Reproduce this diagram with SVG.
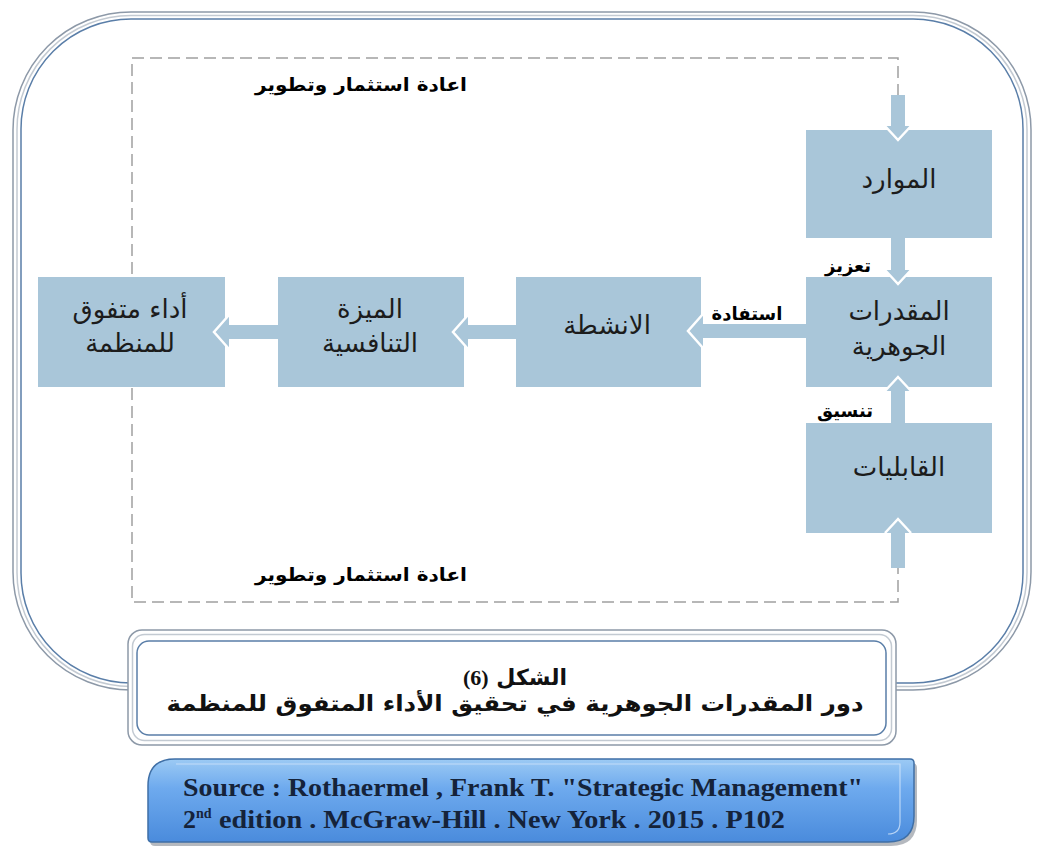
<svg xmlns="http://www.w3.org/2000/svg" width="1038" height="848" viewBox="0 0 1038 848">
  <defs>
    <linearGradient id="srcFill" x1="0" y1="0" x2="0" y2="1">
      <stop offset="0" stop-color="#9ccaf4"/>
      <stop offset="0.35" stop-color="#6eaaee"/>
      <stop offset="1" stop-color="#4a8bdc"/>
    </linearGradient>
    <style>
      .box { fill: #a9c6d9; }
      .ar { font-family: "DejaVu Sans", sans-serif; direction: rtl; fill: #1c1c1c; }
      .node { font-size: 26px; }
      .lbl { font-size: 18px; font-weight: bold; fill: #000; }
      .cap { font-size: 22px; font-weight: bold; fill: #111; }
      .num { font-family: "Liberation Serif", serif; font-weight: bold; font-size: 22px; }
      .arrow { fill: #a9c6d9; }
      .chev { fill: none; stroke: #ffffff; stroke-width: 2.5; stroke-linejoin: miter; }
      .dash { fill: none; stroke: #a0a0a0; stroke-width: 1.5; stroke-dasharray: 12 6; }
      .src { font-family: "Liberation Serif", serif; font-weight: bold; font-size: 26px; fill: #15233a; }
    </style>
  </defs>

  <rect width="1038" height="848" fill="#ffffff"/>

  <!-- outer triple-line frame -->
  <g id="frame" fill="none">
    <rect x="13" y="12" width="1018" height="678" rx="118" stroke="#8d99a8" stroke-width="1.5"/>
    <rect x="17" y="15.5" width="1010" height="671" rx="114" stroke="#c3cad2" stroke-width="1.5"/>
    <rect x="21" y="19" width="1002" height="664" rx="110" stroke="#5a7ea8" stroke-width="1.5"/>
  </g>

  <!-- connectors -->
  <g id="connectors">
    <path class="dash" d="M898,96 L898,58 L132,58 L132,602 L898,602 L898,567"/>
    <!-- reinvestment into resources -->
    <polygon class="arrow" points="891,95 905,95 905,126 911,126 898,140 885,126 891,126"/>
    <!-- resources to core competencies -->
    <polygon class="arrow" points="891,238 905,238 905,270 911,270 898,284 885,270 891,270"/>
    <!-- capabilities to core competencies -->
    <polygon class="arrow" points="891,423 905,423 905,391 911,391 898,377 885,391 891,391"/>
    <!-- reinvestment into capabilities -->
    <polygon class="arrow" points="891,568 905,568 905,533 911,533 898,519 885,533 891,533"/>
    <!-- core competencies to activities -->
    <polygon class="arrow" points="806,324 806,338 703,338 703,348 688,331 703,314 703,324"/>
    <!-- activities to competitive advantage -->
    <polygon class="arrow" points="516,325 516,339 468,339 468,349 453,332 468,315 468,325"/>
    <!-- competitive advantage to performance -->
    <polygon class="arrow" points="278,325 278,339 229,339 229,349 214,332 229,315 229,325"/>
  </g>

  <!-- nodes -->
  <g id="node-resources">
    <rect class="box" x="806" y="130" width="186" height="108"/>
    <text class="ar node" x="899" y="188" text-anchor="middle">الموارد</text>
  </g>
  <g id="node-core">
    <rect class="box" x="806" y="277" width="186" height="110"/>
    <text class="ar node" x="899" y="320" text-anchor="middle">المقدرات</text>
    <text class="ar node" x="899" y="355" text-anchor="middle">الجوهرية</text>
  </g>
  <g id="node-capabilities">
    <rect class="box" x="806" y="423" width="186" height="110"/>
    <text class="ar node" x="899" y="476" text-anchor="middle">القابليات</text>
  </g>
  <g id="node-activities">
    <rect class="box" x="516" y="277" width="185" height="110"/>
    <text class="ar node" x="607" y="334" text-anchor="middle">الانشطة</text>
  </g>
  <g id="node-advantage">
    <rect class="box" x="278" y="277" width="186" height="110"/>
    <text class="ar node" x="370" y="318" text-anchor="middle">الميزة</text>
    <text class="ar node" x="370" y="352" text-anchor="middle">التنافسية</text>
  </g>
  <g id="node-performance">
    <rect class="box" x="38" y="277" width="187" height="110"/>
    <text class="ar node" x="130" y="318" text-anchor="middle">أداء متفوق</text>
    <text class="ar node" x="130" y="352" text-anchor="middle">للمنظمة</text>
  </g>

  <!-- arrowhead outlines over the target boxes -->
  <g id="arrowheads">
    <polyline class="chev" points="885,126 898,140 911,126"/>
    <polyline class="chev" points="885,270 898,284 911,270"/>
    <polyline class="chev" points="885,391 898,377 911,391"/>
    <polyline class="chev" points="885,533 898,519 911,533"/>
    <polyline class="chev" points="703,314 688,331 703,348"/>
    <polyline class="chev" points="468,315 453,332 468,349"/>
    <polyline class="chev" points="229,315 214,332 229,349"/>
  </g>

  <!-- connector labels -->
  <g id="labels">
    <text class="ar lbl" x="361" y="91" text-anchor="middle" textLength="212" lengthAdjust="spacingAndGlyphs">اعادة استثمار وتطوير</text>
    <text class="ar lbl" x="361" y="581" text-anchor="middle" textLength="212" lengthAdjust="spacingAndGlyphs">اعادة استثمار وتطوير</text>
    <text class="ar lbl" x="848" y="272" text-anchor="middle">تعزيز</text>
    <text class="ar lbl" x="747" y="320" text-anchor="middle">استفادة</text>
    <text class="ar lbl" x="845" y="417" text-anchor="middle">تنسيق</text>
  </g>

  <!-- caption panel -->
  <g id="caption">
    <rect x="128" y="630" width="768" height="115" rx="14" fill="#ffffff" stroke="#8d99a8" stroke-width="1.5"/>
    <rect x="132.5" y="634.5" width="759" height="106" rx="12" fill="none" stroke="#c3cad2" stroke-width="1.5"/>
    <rect x="137" y="641" width="749" height="94" rx="12" fill="none" stroke="#5a7ea8" stroke-width="1.5"/>
    <text class="ar cap" x="515" y="685" text-anchor="middle">الشكل <tspan class="num">(6)</tspan></text>
    <text class="ar cap" x="515" y="711" text-anchor="middle" textLength="697" lengthAdjust="spacingAndGlyphs">دور المقدرات الجوهرية في تحقيق الأداء المتفوق للمنظمة</text>
  </g>

  <!-- source panel -->
  <g id="source">
    <path d="M178,763 L912,763 Q917,763 917,768 L917,820 Q917,846 891,846 L155,846 Q150,846 150,841 L150,791 Q150,763 178,763 Z" fill="#5b6470" opacity="0.45"/>
    <path d="M175,759 L910,759 Q914,759 914,763 L914,816 Q914,842 888,842 L152,842 Q148,842 148,838 L148,786 Q148,759 175,759 Z" fill="url(#srcFill)" stroke="#3f6fa6" stroke-width="1.5"/>
    <path d="M176,764 L900,764 L900,822 Q900,834 888,834" fill="none" stroke="#cfe3fa" stroke-width="1.2" opacity="0.8"/>
    <text class="src" x="183" y="796" textLength="680" lengthAdjust="spacingAndGlyphs">Source : Rothaermel , Frank T. "Strategic Management"</text>
    <text class="src" x="183" y="828">2<tspan font-size="14" dy="-10">nd</tspan></text>
    <text class="src" x="219" y="828" textLength="566" lengthAdjust="spacingAndGlyphs">edition . McGraw-Hill . New York . 2015 . P102</text>
  </g>
</svg>
